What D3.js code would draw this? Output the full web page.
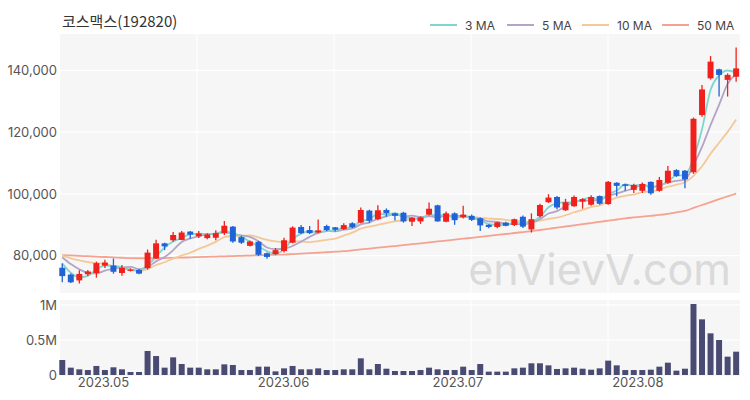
<!DOCTYPE html>
<html><head><meta charset="utf-8">
<script src="https://cdn.jsdelivr.net/npm/d3@7"></script>
<style>body{margin:0;background:#fff}svg{display:block;font-family:"Noto Sans CJK KR","Noto Sans",sans-serif}</style>
</head><body><svg id="c" width="750" height="400"></svg>
<script>
const title = "코스맥스(192820)";
const dates = ["2023-04-24","2023-04-25","2023-04-26","2023-04-27","2023-04-28",
"2023-05-02","2023-05-03","2023-05-04","2023-05-08","2023-05-09","2023-05-10","2023-05-11","2023-05-12","2023-05-15","2023-05-16","2023-05-17","2023-05-18","2023-05-19","2023-05-22","2023-05-23","2023-05-24","2023-05-25","2023-05-26","2023-05-30","2023-05-31",
"2023-06-01","2023-06-02","2023-06-05","2023-06-07","2023-06-08","2023-06-09","2023-06-12","2023-06-13","2023-06-14","2023-06-15","2023-06-16","2023-06-19","2023-06-20","2023-06-21","2023-06-22","2023-06-23","2023-06-26","2023-06-27","2023-06-28","2023-06-29","2023-06-30",
"2023-07-03","2023-07-04","2023-07-05","2023-07-06","2023-07-07","2023-07-10","2023-07-11","2023-07-12","2023-07-13","2023-07-14","2023-07-17","2023-07-18","2023-07-19","2023-07-20","2023-07-21","2023-07-24","2023-07-25","2023-07-26","2023-07-27","2023-07-28","2023-07-31",
"2023-08-01","2023-08-02","2023-08-03","2023-08-04","2023-08-07","2023-08-08","2023-08-09","2023-08-10","2023-08-11","2023-08-14","2023-08-16","2023-08-17","2023-08-18"];
const opens = [76100,73900,72000,74000,74400,76800,76800,74400,75100,75400,
76000,79100,84000,85000,85100,87800,86300,85700,85800,87300,
89400,86000,83200,84500,80800,80500,81500,84200,89300,88300,
87500,89600,89200,88600,90500,90700,94600,91800,94800,93700,
93900,91000,91100,93300,96300,91000,93700,92400,92900,92100,
90000,89300,90700,89900,92600,88500,92800,97300,99000,94700,
96000,97500,96500,99300,96700,103600,103100,101300,101000,103900,
101000,103600,107700,107500,107000,125500,137400,140300,136900,137900];
const highs = [77500,74200,75300,75400,78100,78700,79100,77000,75900,75700,
82000,85200,84200,87700,88000,88000,88000,87300,88200,91200,
89600,86500,84900,84800,81000,82500,85800,89500,89900,89600,
91700,90000,89300,90500,90800,95600,94900,96300,95300,93900,
94200,92500,92700,97200,96500,94300,94000,96200,93300,92400,
90200,91000,91000,92000,93000,93700,96800,99900,99300,98400,
99500,98600,99600,99500,104200,103800,103300,103300,103700,104000,
105500,109000,108000,107700,124700,135200,144600,140500,139000,147400];
const lows = [71400,71200,71000,73400,72900,76000,74200,73500,74900,74000,
75500,78900,81800,84500,85000,85500,85700,85300,85000,86700,
84200,83800,83000,79900,79000,80200,81000,84000,87000,87000,
87300,87900,87800,88300,88900,90500,90700,91500,92600,91400,
90700,89600,90300,93000,91000,90800,90000,92000,91200,88000,
88900,88900,89500,89600,89000,87500,92400,97100,95000,94500,
95800,95200,96200,96500,96500,99200,101000,100300,100300,99700,
100700,103300,105500,101800,106500,125000,137000,131500,131500,136300];
const closes = [73400,71400,74100,74900,77600,77800,74800,76100,75500,74200,
81000,84000,83000,86700,87500,86800,87200,86900,87300,89700,
84600,84200,84600,80300,79600,81800,85000,89100,87300,87300,
88200,88300,88400,89900,89200,94800,91300,94700,93700,92900,
91100,92300,92400,95200,91100,93700,91500,93300,91600,89800,
89300,90800,89700,91800,89400,91800,96400,98800,95600,97300,
99000,98300,99000,96800,103900,102600,102600,102900,103200,100200,
104500,107500,105800,104700,124300,133800,142800,138500,138500,140600];
const volumes = [214000,105000,81000,71000,129000,71000,110000,81000,43000,43000,
343000,271000,105000,252000,157000,105000,105000,81000,81000,152000,
143000,71000,71000,119000,119000,52000,95000,129000,81000,81000,
95000,71000,71000,81000,81000,238000,81000,157000,90000,57000,
57000,57000,71000,105000,81000,71000,71000,119000,71000,157000,
48000,48000,48000,95000,105000,167000,167000,138000,86000,95000,
105000,90000,76000,95000,205000,138000,71000,71000,71000,76000,
119000,176000,62000,90000,1014000,795000,595000,500000,262000,333000];
// closes before the first visible day (estimated from where the short MAs start)
const priorCloses = [80000,80500,81000,80500,80500,82500,82500,80500,78600];
// 50-day MA
const ma50 = [80200,80080,79950,79830,79700,79580,79460,79340,79230,79180,
79160,79180,79240,79310,79380,79460,79550,79640,79730,79800,
79880,79960,80050,80130,80220,80300,80380,80520,80660,80810,
80960,81120,81290,81470,81740,82030,82310,82590,82870,83130,
83420,83720,84020,84310,84610,84910,85200,85500,85780,86080,
86390,86710,87020,87340,87650,87970,88320,88700,89070,89450,
89820,90190,90570,90950,91330,91710,92090,92370,92650,92920,
93180,93550,94020,94500,95450,96400,97350,98300,99200,100100];
const maLabels = ["3 MA","5 MA","10 MA","50 MA"];
const maColors = ["#7fd6cf","#b3a4c8","#f3c998","#f5a391"];
const priceTicks = [80000,100000,120000,140000];
const volTicks = [0,500000,1000000];
const volTickLabels = ["0","0.5M","1M"];
const monthTicks = ["2023-05-01","2023-06-01","2023-07-01","2023-08-01"];
const monthLabels = ["2023.05","2023.06","2023.07","2023.08"];

const svg = d3.select("#c");
const L = 60, R = 740, T = 34, B = 293, VT = 300, VB = 376;
const up = "#f0201c", down = "#1f63d6";

const x = d3.scaleBand().domain(d3.range(dates.length)).range([58, 740.4]).paddingInner(0.3).paddingOuter(0.15);
const bw = x.bandwidth();
const cx = i => x(i) + bw/2;
const y = d3.scaleLinear().domain([67930, 151740]).range([B, T]);
const yv = d3.scaleLinear().domain([0, 1071000]).range([375, 300]);
const parse = d3.timeParse("%Y-%m-%d");
const xt = d3.scaleTime().domain([parse(dates[0]), parse(dates[dates.length-1])]).range([cx(0), cx(dates.length-1)]);

// backgrounds
svg.append("rect").attr("x",L).attr("y",T).attr("width",R-L).attr("height",B-T).attr("fill","#f6f6f6");
svg.append("rect").attr("x",L).attr("y",VT).attr("width",R-L).attr("height",VB-VT).attr("fill","#f6f6f6");
// vertical grid
const gstep = 137;
for (let k=1;k<5;k++){
  const gx = L + k*gstep;
  [[T,B],[VT,VB]].forEach(([a,b])=>svg.append("line").attr("x1",gx).attr("x2",gx).attr("y1",a).attr("y2",b).attr("stroke","#fff").attr("stroke-width",1.2));
}
// horizontal grid
priceTicks.forEach(v=>svg.append("line").attr("x1",L).attr("x2",R).attr("y1",y(v)).attr("y2",y(v)).attr("stroke","#fff").attr("stroke-width",1.2));
volTicks.slice(1).forEach(v=>svg.append("line").attr("x1",L).attr("x2",R).attr("y1",yv(v)).attr("y2",yv(v)).attr("stroke","#fff").attr("stroke-width",1.2));

// axes labels
const yAxis = d3.axisLeft(y).tickValues(priceTicks).tickFormat(d3.format(",")).tickSize(0).tickPadding(3);
const ga = svg.append("g").attr("transform",`translate(${L},0)`).call(yAxis);
ga.select(".domain").remove();
ga.selectAll("text").attr("fill","#555").style("font-size","13px").style("font-family","Inter, 'Noto Sans', sans-serif");
const vAxis = d3.axisLeft(yv).tickValues(volTicks).tickFormat((d,i)=>volTickLabels[i]).tickSize(0).tickPadding(3);
const gv = svg.append("g").attr("transform",`translate(${L},0)`).call(vAxis);
gv.select(".domain").remove();
gv.selectAll("text").attr("fill","#555").style("font-size","13px").style("font-family","Inter, 'Noto Sans', sans-serif");
const xAxis = d3.axisBottom(xt).tickValues(monthTicks.map(parse)).tickFormat((d,i)=>monthLabels[i]).tickSize(0).tickPadding(2);
const gx = svg.append("g").attr("transform",`translate(0,${VB})`).call(xAxis);
gx.select(".domain").remove();
gx.selectAll("text").attr("fill","#555").style("font-size","13px").style("font-family","Inter, 'Noto Sans', sans-serif");

// watermark
svg.append("text").attr("x",731).attr("y",285).attr("text-anchor","end").attr("fill","#dadada")
  .style("font-size","43px").style("font-family","Inter, 'Noto Sans', sans-serif").text("enVievV.com");

// moving averages
const series = priorCloses.concat(closes);
const maOf = n => closes.map((c,i)=>d3.mean(series.slice(i+priorCloses.length-n+1, i+priorCloses.length+1)));
const maData = [maOf(3), maOf(5), maOf(10), ma50];
const line = d3.line().x((d,i)=>cx(i)).y(d=>y(d)).curve(d3.curveMonotoneX);
[3,2,1,0].forEach(k=>svg.append("path").attr("d",line(maData[k])).attr("fill","none").attr("stroke",maColors[k]).attr("stroke-width",1.8));

// candles
const g = svg.append("g");
closes.forEach((c,i)=>{
  const col = c >= opens[i] ? up : down;
  g.append("line").attr("x1",cx(i)).attr("x2",cx(i)).attr("y1",y(highs[i])).attr("y2",y(lows[i])).attr("stroke",col).attr("stroke-width",1.3);
  const t = y(Math.max(c,opens[i])), b = y(Math.min(c,opens[i]));
  g.append("rect").attr("x",x(i)).attr("y",t).attr("width",bw).attr("height",Math.max(1,b-t)).attr("fill",col);
});
// volume
svg.append("g").selectAll("rect").data(volumes).join("rect")
  .attr("x",(d,i)=>x(i)).attr("y",d=>yv(d)).attr("width",bw).attr("height",d=>375-yv(d)).attr("fill","#4a4b73");

// title
svg.append("text").attr("x",62).attr("y",27).attr("fill","#333").style("font-size","15px").text(title);
// legend
const lx = [430,507,582,662];
maLabels.forEach((lab,k)=>{
  svg.append("line").attr("x1",lx[k]).attr("x2",lx[k]+27).attr("y1",25).attr("y2",25).attr("stroke",maColors[k]).attr("stroke-width",2);
  svg.append("text").attr("x",lx[k]+35).attr("y",29.5).attr("fill","#444").style("font-size","12px").style("font-family","Inter, 'Noto Sans', sans-serif").text(lab);
});
</script></body></html>
